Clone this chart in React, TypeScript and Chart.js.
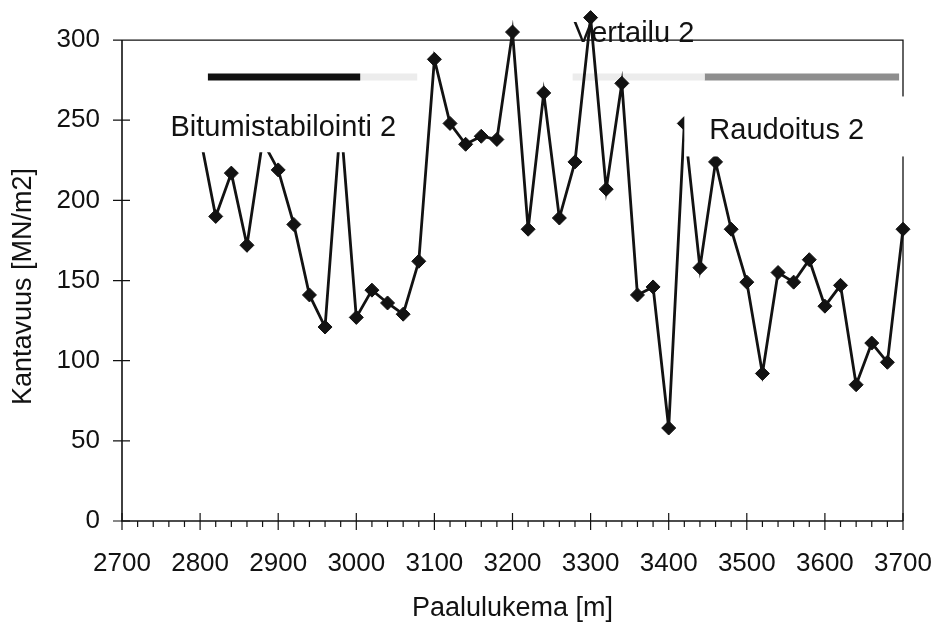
import { useEffect, useRef } from "react";
import { Chart, registerables } from "chart.js";

Chart.register(...registerables);

// Measuring stations along the road [m]
const stations = [
  2800, 2820, 2840, 2860, 2880, 2900, 2920, 2940, 2960, 2980,
  3000, 3020, 3040, 3060, 3080, 3100, 3120, 3140, 3160, 3180,
  3200, 3220, 3240, 3260, 3280, 3300, 3320, 3340, 3360, 3380,
  3400, 3420, 3440, 3460, 3480, 3500, 3520, 3540, 3560, 3580,
  3600, 3620, 3640, 3660, 3680, 3700,
];

// Bearing capacity [MN/m2] at each station
const kantavuus = [
  240, 190, 217, 172, 237, 219, 185, 141, 121, 250,
  127, 144, 136, 129, 162, 288, 248, 235, 240, 238,
  305, 182, 267, 189, 224, 314, 207, 273, 141, 146,
  58, 248, 158, 224, 182, 149, 92, 155, 149, 163,
  134, 147, 85, 111, 99, 182,
];

// Test section extents [m], drawn as bars at one level
const bitumiSection = [2810, 3005];
const transitionSection = [3005, 3078];
const vertailuSection = [3277, 3446];
const raudoitusSection = [3446, 3695];
const sectionLevel = 277;

const xMin = 2700;
const xMax = 3700;
const xStep = 100;
const xMinorStep = 20;
const yMin = 0;
const yMax = 300;
const yStep = 50;
// headroom above the frame so peaks over 300 stay visible
const yHeadroom = 320;

const xTitle = "Paalulukema [m]";
const yTitle = "Kantavuus [MN/m2]";

// Section names; pad = white backing box around the text (px)
const sectionLabels = [
  { text: "Bitumistabilointi 2", x: 2762, y: 240, pad: { l: 10, r: 10, t: 43, b: 16 } },
  { text: "Vertailu 2", x: 3278, y: 299, pad: null },
  { text: "Raudoitus 2", x: 3452, y: 238, pad: { l: 25, r: 45, t: 43, b: 17 } },
];

const FONT = '"Liberation Sans", Arial, Helvetica, sans-serif';
const INK = "#121212";

const sectionBar = (range: number[], color: string) => ({
  data: [
    { x: range[0], y: sectionLevel },
    { x: range[1], y: sectionLevel },
  ],
  borderColor: color,
  backgroundColor: color,
  borderWidth: 7,
  borderCapStyle: "butt" as const,
  pointRadius: 0,
  clip: false as const,
});

// Axis lines, top/right frame, tick marks and the y-axis title
const framePlugin = {
  id: "frame",
  beforeDatasetsDraw(chart: any) {
    const { ctx, chartArea } = chart;
    const { left, right, bottom } = chartArea;
    const xs = chart.scales.x;
    const ys = chart.scales.y;
    const top = ys.getPixelForValue(yMax);
    ctx.save();
    ctx.strokeStyle = INK;
    ctx.lineWidth = 1.6;
    ctx.beginPath();
    ctx.moveTo(left, top);
    ctx.lineTo(left, bottom);
    ctx.lineTo(right, bottom);
    ctx.stroke();

    ctx.lineWidth = 1.3;
    ctx.beginPath();
    ctx.moveTo(left, top);
    ctx.lineTo(right, top);
    ctx.lineTo(right, bottom);
    ctx.stroke();

    ctx.lineWidth = 1.2;
    ctx.beginPath();
    for (let v = xMin; v <= xMax; v += xMinorStep) {
      const px = xs.getPixelForValue(v);
      if ((v - xMin) % xStep === 0) {
        ctx.moveTo(px, bottom - 8);
        ctx.lineTo(px, bottom + 9);
      } else {
        ctx.moveTo(px, bottom);
        ctx.lineTo(px, bottom + 6);
      }
    }
    for (let v = yMin; v <= yMax; v += yStep) {
      const py = ys.getPixelForValue(v);
      ctx.moveTo(left - 9, py);
      ctx.lineTo(v === yMax ? left : left + 8, py);
    }
    ctx.stroke();

    // y-axis title, centred a little below the middle of the axis
    ctx.translate(24, (top + bottom) / 2 + 6);
    ctx.rotate(-Math.PI / 2);
    ctx.font = `27px ${FONT}`;
    ctx.fillStyle = INK;
    ctx.textAlign = "center";
    ctx.textBaseline = "middle";
    ctx.fillText(yTitle, 0, 0);
    ctx.restore();
  },
};

// Section names with their white backing boxes
const labelPlugin = {
  id: "sectionLabels",
  afterDatasetsDraw(chart: any) {
    const { ctx } = chart;
    const xs = chart.scales.x;
    const ys = chart.scales.y;
    ctx.save();
    ctx.font = `29px ${FONT}`;
    ctx.textAlign = "left";
    ctx.textBaseline = "alphabetic";
    for (const lab of sectionLabels) {
      const px = xs.getPixelForValue(lab.x);
      const py = ys.getPixelForValue(lab.y);
      const w = ctx.measureText(lab.text).width;
      if (lab.pad) {
        ctx.fillStyle = "#ffffff";
        ctx.fillRect(
          px - lab.pad.l,
          py - lab.pad.t,
          w + lab.pad.l + lab.pad.r,
          lab.pad.t + lab.pad.b
        );
      }
      ctx.fillStyle = INK;
      ctx.fillText(lab.text, px, py);
    }
    ctx.restore();
  },
};

export default function App() {
  const canvasRef = useRef<HTMLCanvasElement | null>(null);

  useEffect(() => {
    const canvas = canvasRef.current;
    if (!canvas) return;

    const chart = new Chart(canvas, {
      type: "line",
      data: {
        datasets: [
          {
            data: stations.map((s, i) => ({ x: s, y: kantavuus[i] })),
            borderColor: INK,
            backgroundColor: INK,
            borderWidth: 2.8,
            tension: 0,
            pointStyle: "rectRot",
            pointRadius: 7,
            pointBackgroundColor: INK,
            pointBorderColor: INK,
            pointBorderWidth: 1,
            clip: false,
          },
          sectionBar(bitumiSection, "#111111"),
          sectionBar(transitionSection, "#ececec"),
          sectionBar(vertailuSection, "#ececec"),
          sectionBar(raudoitusSection, "#8e8e8e"),
        ],
      },
      options: {
        animation: false,
        responsive: false,
        devicePixelRatio: 1,
        layout: { padding: { top: 8, right: 44, left: 0, bottom: 0 } },
        plugins: {
          legend: { display: false },
          tooltip: { enabled: false },
        },
        scales: {
          x: {
            type: "linear",
            min: xMin,
            max: xMax,
            afterFit: (scale: any) => {
              scale.height = 104;
              scale.paddingLeft = 0;
              scale.paddingRight = 0;
            },
            ticks: {
              stepSize: xStep,
              padding: 27,
              color: INK,
              font: { family: FONT, size: 26 },
              maxRotation: 0,
              callback: (v: any) => String(v),
            },
            grid: { display: false, drawTicks: false },
            border: { display: false },
            title: {
              display: true,
              text: xTitle,
              color: INK,
              font: { family: FONT, size: 27 },
              padding: { top: 0, bottom: 0 },
            },
          },
          y: {
            type: "linear",
            min: yMin,
            max: yHeadroom,
            afterBuildTicks: (scale: any) => {
              scale.ticks = scale.ticks.filter((t: any) => t.value <= yMax);
            },
            afterFit: (scale: any) => {
              scale.width = 122;
              scale.paddingTop = 0;
              scale.paddingBottom = 0;
            },
            ticks: {
              stepSize: yStep,
              padding: 22,
              color: INK,
              font: { family: FONT, size: 26 },
              callback: (v: any) => String(v),
            },
            grid: { display: false, drawTicks: false },
            border: { display: false },
            title: { display: false },
          },
        },
      },
      plugins: [framePlugin, labelPlugin],
    });

    return () => chart.destroy();
  }, []);

  return (
    <div
      style={{
        position: "fixed",
        left: 0,
        top: 0,
        width: 947,
        height: 625,
        background: "#ffffff",
      }}
    >
      <canvas ref={canvasRef} width={947} height={625} style={{ display: "block" }} />
    </div>
  );
}
